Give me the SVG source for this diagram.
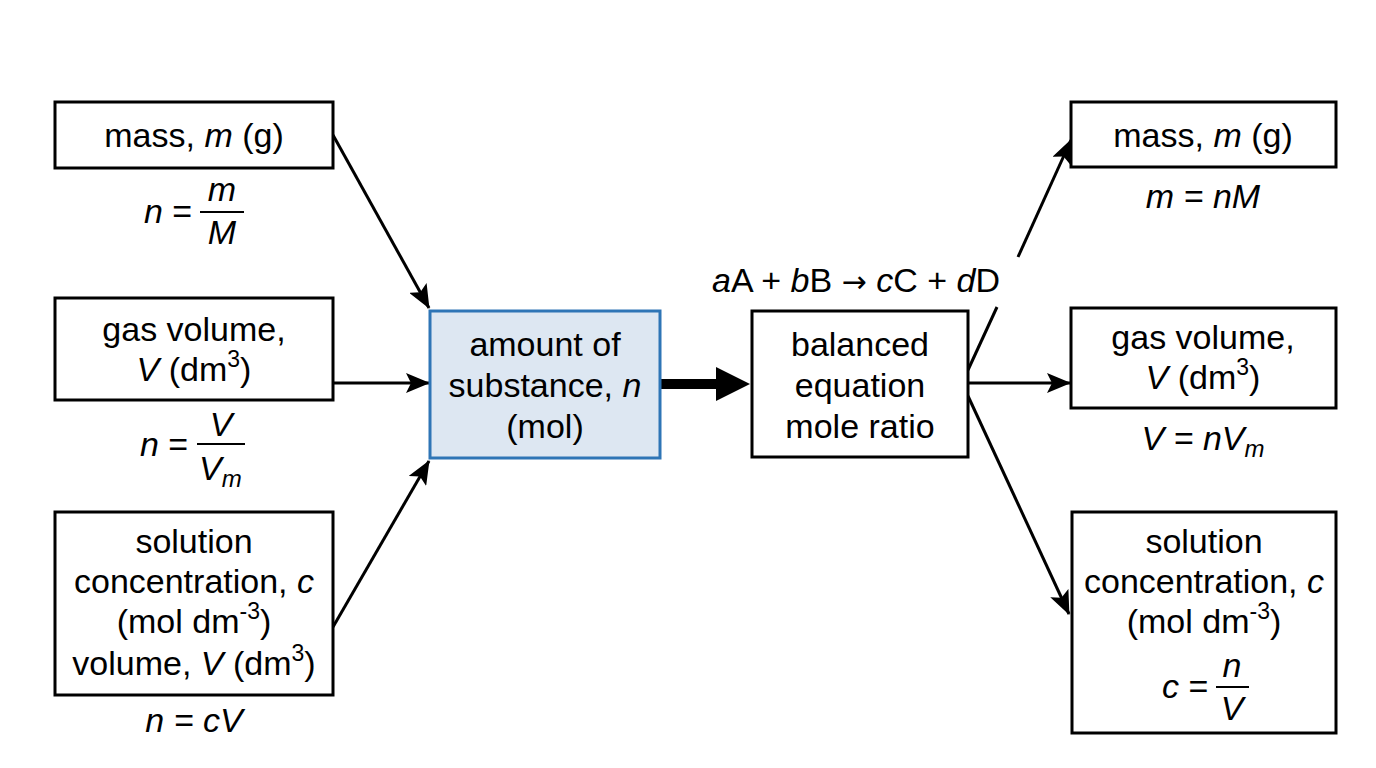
<svg xmlns="http://www.w3.org/2000/svg" width="1376" height="768" viewBox="0 0 1376 768">
<style>
text{font-family:"Liberation Sans",Arial,Helvetica,sans-serif;font-size:34px;fill:#000}
.c{text-anchor:middle}
.i{font-style:italic}
.box{fill:#fff;stroke:#000;stroke-width:3}
.hub{fill:#dde7f2;stroke:#2e75b6;stroke-width:3}
.ln{stroke:#000;stroke-width:3;fill:none}
.arr{marker-end:url(#ah)}
.bar{stroke:#000;stroke-width:2}
.sup{font-size:23px}
.sub{font-size:24px}
.arw{font-family:"DejaVu Sans",sans-serif;font-size:30px}
</style>
<defs>
<marker id="ah" viewBox="0 0 24 20" refX="23" refY="10" markerWidth="24" markerHeight="20" markerUnits="userSpaceOnUse" orient="auto">
<path d="M0,0 L24,10 L0,20 L5,10 z" fill="#000"/>
</marker>
</defs>
<rect width="1376" height="768" fill="#fff"/>

<g id="connectors">
<line class="ln arr" x1="333" y1="135" x2="429" y2="308"/>
<line class="ln arr" x1="333" y1="383" x2="429" y2="383"/>
<line class="ln arr" x1="333" y1="627" x2="429" y2="461"/>
<rect x="660" y="379" width="60" height="10" fill="#000"/>
<polygon points="716,367 750,384 716,401" fill="#000"/>
<line class="ln" x1="968" y1="370" x2="997" y2="307"/>
<line class="ln arr" x1="1018" y1="257" x2="1071" y2="140"/>
<line class="ln arr" x1="968" y1="383" x2="1070" y2="383"/>
<line class="ln arr" x1="968" y1="396" x2="1069" y2="614"/>
</g>

<g id="left-mass">
<rect class="box" x="55" y="102" width="278" height="66"/>
<text class="c" x="194" y="147">mass, <tspan class="i">m</tspan> (g)</text>
<text x="144" y="223"><tspan class="i">n</tspan> =</text>
<line class="bar" x1="200" y1="212" x2="244" y2="212"/>
<text class="c i" x="222" y="201">m</text>
<text class="c i" x="222" y="244">M</text>
</g>

<g id="left-gas">
<rect class="box" x="55" y="298" width="278" height="102"/>
<text class="c" x="194" y="341">gas volume,</text>
<text class="c" x="194" y="381"><tspan class="i">V</tspan> (dm<tspan class="sup" dy="-14">3</tspan><tspan dy="14">)</tspan></text>
<text x="140" y="456"><tspan class="i">n</tspan> =</text>
<line class="bar" x1="197" y1="444" x2="245" y2="444"/>
<text class="c i" x="221" y="436">V</text>
<text class="i" x="199" y="480">V<tspan class="sub" dy="7">m</tspan></text>
</g>

<g id="left-solution">
<rect class="box" x="55" y="512" width="278" height="183"/>
<text class="c" x="194" y="553">solution</text>
<text class="c" x="194" y="593">concentration, <tspan class="i">c</tspan></text>
<text class="c" x="194" y="633">(mol dm<tspan class="sup" dy="-14">-3</tspan><tspan dy="14">)</tspan></text>
<text class="c" x="194" y="675">volume, <tspan class="i">V</tspan> (dm<tspan class="sup" dy="-14">3</tspan><tspan dy="14">)</tspan></text>
<text class="c i" x="194" y="732">n = cV</text>
</g>

<g id="amount">
<rect class="hub" x="430" y="311" width="230" height="147"/>
<text class="c" x="545" y="356">amount of</text>
<text class="c" x="545" y="397">substance, <tspan class="i">n</tspan></text>
<text class="c" x="545" y="438">(mol)</text>
</g>

<g id="balanced">
<rect class="box" x="752" y="311" width="216" height="146"/>
<text class="c" x="860" y="356">balanced</text>
<text class="c" x="860" y="397">equation</text>
<text class="c" x="860" y="438">mole ratio</text>
<text class="c" x="856" y="292"><tspan class="i">a</tspan>A + <tspan class="i">b</tspan>B <tspan class="arw">→</tspan> <tspan class="i">c</tspan>C + <tspan class="i">d</tspan>D</text>
</g>

<g id="right-mass">
<rect class="box" x="1071" y="102" width="265" height="65"/>
<text class="c" x="1203" y="147">mass, <tspan class="i">m</tspan> (g)</text>
<text class="c i" x="1203" y="208">m = nM</text>
</g>

<g id="right-gas">
<rect class="box" x="1071" y="308" width="265" height="100"/>
<text class="c" x="1203" y="349">gas volume,</text>
<text class="c" x="1203" y="389"><tspan class="i">V</tspan> (dm<tspan class="sup" dy="-14">3</tspan><tspan dy="14">)</tspan></text>
<text class="c i" x="1203" y="450">V = nV<tspan class="sub" dy="7">m</tspan></text>
</g>

<g id="right-solution">
<rect class="box" x="1072" y="512" width="264" height="221"/>
<text class="c" x="1204" y="553">solution</text>
<text class="c" x="1204" y="593">concentration, <tspan class="i">c</tspan></text>
<text class="c" x="1204" y="633">(mol dm<tspan class="sup" dy="-14">-3</tspan><tspan dy="14">)</tspan></text>
<text class="i" x="1162" y="698">c <tspan font-style="normal">=</tspan></text>
<line class="bar" x1="1216" y1="687" x2="1249" y2="687"/>
<text class="c i" x="1232" y="677">n</text>
<text class="c i" x="1232" y="720">V</text>
</g>
</svg>
